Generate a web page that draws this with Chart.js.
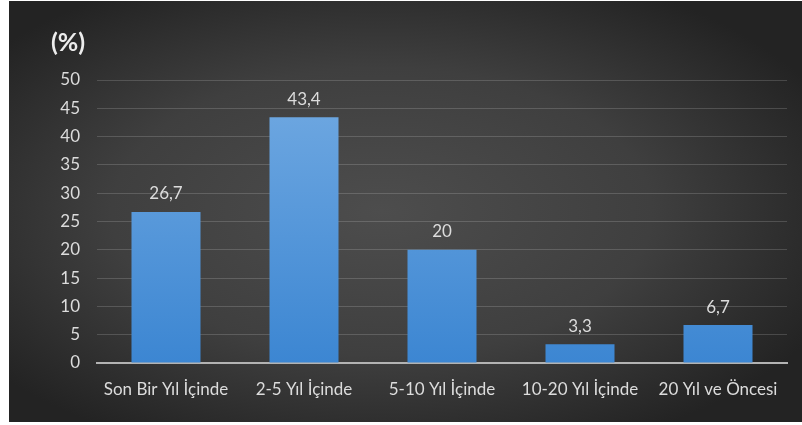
<!DOCTYPE html>
<html>
<head>
<meta charset="utf-8">
<script src="https://cdn.jsdelivr.net/npm/chart.js@4/dist/chart.umd.min.js"></script>
<style>
  html, body { margin: 0; padding: 0; background: #ffffff; }
  #wrap { width: 802px; height: 425px; }
</style>
</head>
<body>
<div id="wrap"><canvas id="c" width="802" height="425"></canvas></div>
<script>
const categories = ['Son Bir Yıl İçinde', '2-5 Yıl İçinde', '5-10 Yıl İçinde', '10-20 Yıl İçinde', '20 Yıl ve Öncesi'];
const values = [26.7, 43.4, 20, 3.3, 6.7];
const yTicks = [0, 5, 10, 15, 20, 25, 30, 35, 40, 45, 50];
const unitLabel = '(%)';

const FONT = 'Lato, "Open Sans", "DejaVu Sans", sans-serif';
const fmt = v => String(v).replace('.', ',');

// dark radial backdrop behind the plot
const backdrop = {
  id: 'backdrop',
  beforeDraw(chart) {
    const ctx = chart.ctx;
    const x0 = 9, y0 = 1, w = chart.width - x0, h = 422 - y0;
    ctx.save();
    ctx.beginPath();
    ctx.rect(x0, y0, w, h);
    ctx.clip();
    ctx.translate(x0 + w * 0.47, y0 + h * 0.5);
    ctx.scale(1, h / w);
    const g = ctx.createRadialGradient(0, 0, 0, 0, 0, w * 0.62);
    g.addColorStop(0, '#4d4d4d');
    g.addColorStop(0.55, '#3f3f3f');
    g.addColorStop(1, '#232323');
    ctx.fillStyle = g;
    ctx.fillRect(-w, -w, 2 * w, 2 * w);
    ctx.restore();
  }
};

// unit caption and value labels above each bar
const annotations = {
  id: 'annotations',
  afterDatasetsDraw(chart) {
    const ctx = chart.ctx;
    ctx.save();
    ctx.fillStyle = '#ececec';
    ctx.font = 'bold 25px ' + FONT;
    ctx.textAlign = 'left';
    ctx.textBaseline = 'middle';
    ctx.fillText(unitLabel, 51, 43);

    ctx.fillStyle = '#dcdcdc';
    ctx.font = '17px ' + FONT;
    ctx.textAlign = 'center';
    const meta = chart.getDatasetMeta(0);
    meta.data.forEach((bar, i) => {
      ctx.fillText(fmt(values[i]), bar.x, bar.y - 18);
    });
    ctx.restore();
  }
};

new Chart(document.getElementById('c'), {
  type: 'bar',
  data: {
    labels: categories,
    datasets: [{
      data: values,
      backgroundColor(context) {
        const area = context.chart.chartArea;
        if (!area) return '#5b9bd5';
        const g = context.chart.ctx.createLinearGradient(0, area.top, 0, area.bottom);
        g.addColorStop(0, '#72aae2');
        g.addColorStop(1, '#3c86d2');
        return g;
      },
      borderWidth: 0,
      barPercentage: 0.5,
      categoryPercentage: 1.0
    }]
  },
  options: {
    responsive: false,
    animation: false,
    devicePixelRatio: 1,
    layout: { padding: { left: 9, top: 80, right: 15, bottom: 0 } },
    plugins: { legend: { display: false }, tooltip: { enabled: false } },
    scales: {
      x: {
        grid: { display: false, drawTicks: false },
        border: { display: true, color: '#b3b3b3', width: 2 },
        ticks: { color: '#dcdcdc', font: { family: FONT, size: 17 }, padding: 16, maxRotation: 0, autoSkip: false },
        afterFit(scale) { scale.height = 62; }
      },
      y: {
        min: 0,
        max: 50,
        afterBuildTicks(scale) { scale.ticks = yTicks.map(v => ({ value: v })); },
        grid: {
          color(ctx) { return ctx.tick && ctx.tick.value === 0 ? 'rgba(0,0,0,0)' : 'rgba(255,255,255,0.16)'; },
          lineWidth: 1,
          drawTicks: false
        },
        border: { display: false },
        ticks: { color: '#dcdcdc', font: { family: FONT, size: 17 }, padding: 17 },
        afterFit(scale) { scale.width = 88; }
      }
    }
  },
  plugins: [backdrop, annotations]
});
</script>
</body>
</html>
